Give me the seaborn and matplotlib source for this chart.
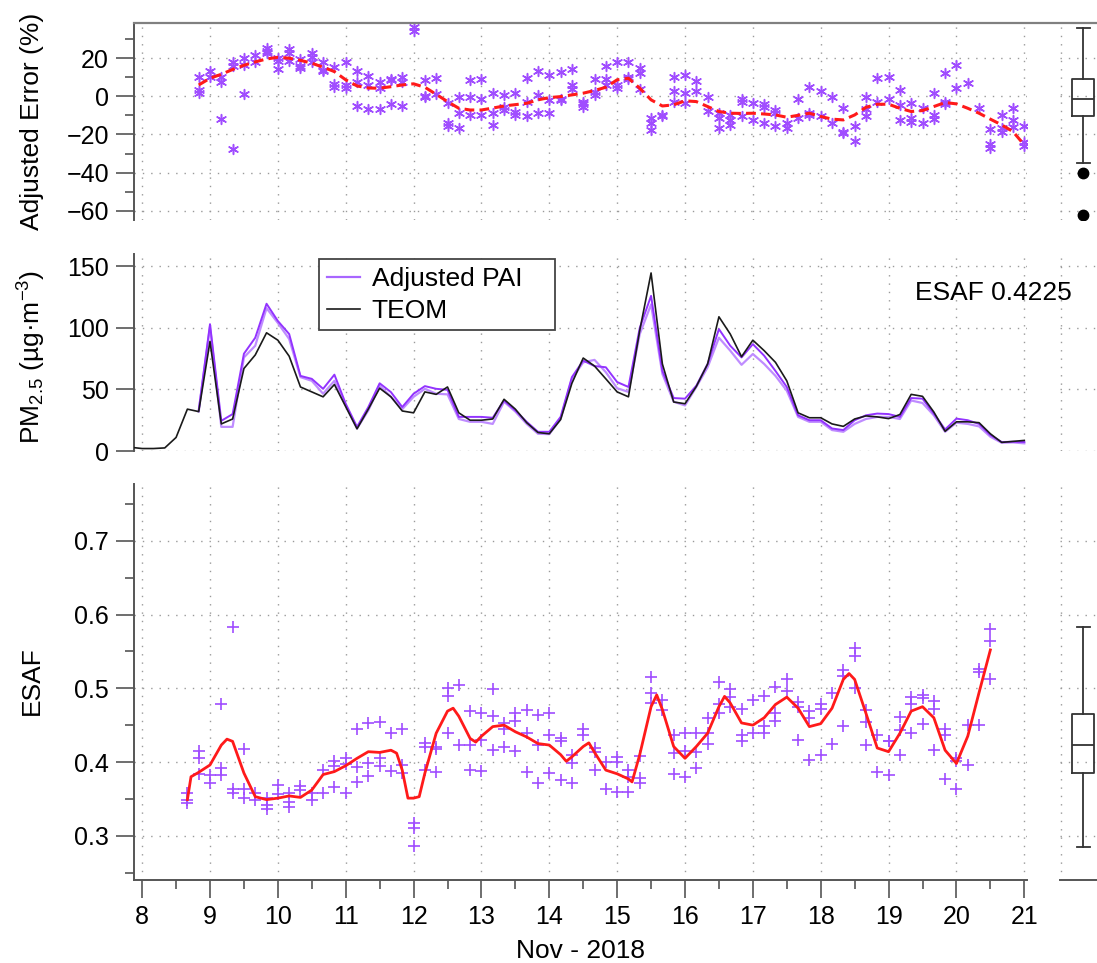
import numpy as np
import matplotlib
matplotlib.use("Agg")
import matplotlib.pyplot as plt
from matplotlib.lines import Line2D
from matplotlib.patches import Rectangle
from matplotlib.ticker import MultipleLocator, FormatStrFormatter
import seaborn as sns

plt.rcParams['font.family'] = ['Liberation Sans', 'DejaVu Sans']
plt.rcParams['mathtext.fontset'] = 'custom'
plt.rcParams['mathtext.rm'] = 'Liberation Sans'
plt.rcParams['mathtext.it'] = 'Liberation Sans:italic'

# ---------------------------------------------------------------- data
# 4-hourly sampling in days of November 2018
teom_start, pai_start, esaf_start = 7 + 5 / 6, 8 + 5 / 6, 8 + 4 / 6

teom_pm = [3, 2, 2, 2.5, 11, 34, 32, 89, 22, 26, 67, 78, 96, 90, 77, 52, 48, 44, 54,
           36, 18, 34, 51, 44, 32.5, 31, 48, 46, 52, 31, 25, 25, 26, 42, 34, 23, 15,
           14, 25.5, 55, 75.5, 69, 58.6, 48, 44, 98, 144.6, 70.7, 39.8, 38.4, 52.4,
           70.7, 109, 95, 76.6, 90, 81.5, 72, 57, 31, 27, 27, 22, 20, 26, 28.5, 27.7,
           26.3, 29.6, 46, 44.4, 31.7, 16, 23.7, 23.7, 23, 14, 7, 7.8, 8.6]

pai_a = [33, 103, 24.5, 30, 79, 92, 119.6, 105.6, 95, 61, 58.6, 50.5, 62, 38.4, 19.6,
         35.7, 55, 47.8, 35.7, 46.5, 52.7, 50.5, 49.7, 27.7, 27.7, 27.7, 27, 41, 33,
         23.7, 15.6, 15.6, 27.7, 60, 73.4, 69, 68, 56, 52, 100, 126, 65, 43, 42.5, 53,
         70.7, 99, 85.5, 76, 86.8, 77.4, 65, 52, 29, 25, 25, 18.3, 17, 25, 29, 30.4,
         30, 27.7, 43, 42.5, 30.4, 17.5, 26.3, 25, 22, 13, 7.3, 7.5, 7.3]

pai_b = [32, 101, 19.6, 19.6, 76, 85.5, 116, 104, 91, 60, 57, 46.5, 57, 37, 18.3, 33,
         53, 44, 34, 44, 50.5, 46.5, 46, 26, 23.7, 23.7, 22, 40, 32, 22, 14, 13.7, 26,
         58.6, 72, 74, 64, 51, 48, 95, 119, 62.6, 40, 37, 52, 68, 92, 81.5, 70, 78.8,
         70.7, 61, 49, 27.7, 23.7, 23.7, 17, 15.6, 22, 26, 27.7, 27.7, 26, 41, 39, 29,
         15.6, 23, 22, 20, 11.6, 6.7, 7, 6.2]

err_points = [
    [10, 3.3, 1.6], [13.3, 10], [10, 7.7, -11.9], [17.8, 16, -27.4], [19.9, 16.4, 1.2],
    [21.6, 17.8], [25.5, 23.9, 22.5], [20.2, 18.2, 14.3], [24.8, 22.5, 18.2],
    [19.4, 16, 15], [22.5, 20.4, 17.8], [17.8, 13.8, 13.3], [15.5, 6.5, 4.7],
    [17.8, 5.9, 4.5], [13.3, 7.7, -5.1], [10.6, 5.9, -6.6], [7.7, 4.2, -6.6],
    [9.1, 8.5, -4.0], [10.3, 7.7, -5.1], [36.5, 33.9], [8.6, 0.3, -0.5], [9.4, 1.2],
    [-3.7, -14.1, -15.5], [-0.2, -8.9, -16.4], [8.6, -0.2, -9.8], [9.1, -1.6, -9.8],
    [1.6, -8.9, -15.2], [0.7, -5.8, -7.2], [1.9, -8.4, -9.8], [9.4, -2.8, -10.3],
    [13.3, 0.7, -8.9], [11, -2, -9], [12.9, -1.4, -1.9], [14.1, 5.9, 3.7],
    [-2.8, -4.2, -5.4], [8.9, 2.4, 0.7], [16, 9.1, 5.9], [17.8, 5.9, 4.2],
    [17.8, 10.3, 8.9], [14.7, 12.4, 3.7], [-11.5, -13.8, -17.6], [-9.8, -10.6],
    [10.3, 3, -2.8], [11.2, 1.9, -3.3], [8, 3], [-0.5, -7.7], [-8.9, -11.5, -16.8],
    [-9.8, -12.4, -15], [-1.6, -2.8, -10.3], [-3.7, -12.4], [-4.0, -5.4, -13.8],
    [-7.2, -8.9, -15.5], [-14.1, -16.8], [-1.6, -11.5], [4.7, -8.9, -9.8], [3, -10.6],
    [-0.5, -14.1], [-5.9, -18.5, -19.4], [-15.5, -23.2], [-0.2, -6.8, -10.6],
    [9.4, -2.8], [10.3, -1.4], [3.3, -4.5, -12.4], [-3.7, -11.5, -13.3], [-6.3, -13.8],
    [1.6, -9.8, -12], [12.4, -2.8, -4.0], [16.4, 4.2], [6.8], [-5.9],
    [-17.3, -25.1, -27.2], [-9.8, -16.8, -18.5], [-6.3, -12.4, -15.9],
    [-15.5, -23.7, -26]]

err_smooth = [5.9, 9.4, 11.5, 14, 16.2, 18, 19.5, 20.4, 19.9, 18.8, 17.3, 15.2, 12.9,
              8.6, 5.4, 4.3, 4.2, 5.0, 5.9, 6.5, 4.7, 1.0, -2.8, -6.3, -7.2, -7.2, -6.2,
              -5.1, -4.4, -3.7, -1.9, -0.7, -0.2, 0.7, 1.6, 3.0, 4.7, 8.6, 9.4, 4.2, -1.9,
              -5.1, -4.5, -2.4, -2.8, -5.4, -8.0, -8.9, -9.0, -8.9, -9.3, -9.8, -11.0,
              -10.0, -8.9, -10.6, -12.0, -12.4, -9.8, -5.8, -4.2, -4.2, -6.3, -8.0, -7.5,
              -5.4, -3.3, -4.0, -6.3, -8.9, -12.0, -15.0, -18.5, -25.5]

esaf_points = [
    [0.358, 0.349, 0.344], [0.415, 0.406, 0.384], [0.383, 0.372], [0.479, 0.392, 0.383],
    [0.583, 0.363, 0.358], [0.417, 0.363, 0.351], [0.358, 0.348], [0.351, 0.342, 0.336],
    [0.369, 0.357], [0.358, 0.346, 0.339], [0.368, 0.362], [0.358, 0.349],
    [0.389, 0.358], [0.402, 0.394, 0.366], [0.405, 0.397, 0.358], [0.445, 0.393, 0.373],
    [0.453, 0.399, 0.381], [0.454, 0.405, 0.394], [0.439, 0.388], [0.445, 0.396, 0.385],
    [0.317, 0.310, 0.286], [0.426, 0.421, 0.389], [0.421, 0.417, 0.386],
    [0.500, 0.489, 0.439], [0.505, 0.423], [0.469, 0.423, 0.389], [0.467, 0.430, 0.388],
    [0.499, 0.463, 0.416], [0.453, 0.445, 0.421], [0.467, 0.455, 0.415],
    [0.471, 0.439, 0.386], [0.464, 0.423, 0.372], [0.466, 0.436, 0.385],
    [0.432, 0.428, 0.376], [0.410, 0.398, 0.371], [0.445, 0.437], [0.419, 0.414, 0.389],
    [0.400, 0.364], [0.407, 0.400, 0.359], [0.389, 0.380, 0.359], [0.408, 0.378, 0.371],
    [0.515, 0.493, 0.480], [0.484, 0.471], [0.436, 0.412, 0.384], [0.439, 0.415, 0.379],
    [0.439, 0.413, 0.392], [0.460, 0.440, 0.425], [0.508, 0.478, 0.466],
    [0.499, 0.488, 0.475], [0.472, 0.436, 0.429], [0.484, 0.439], [0.489, 0.449, 0.439],
    [0.502, 0.467, 0.455], [0.512, 0.496], [0.482, 0.474, 0.430], [0.469, 0.460, 0.403],
    [0.479, 0.472, 0.410], [0.494, 0.425], [0.525, 0.517, 0.449], [0.555, 0.544, 0.500],
    [0.471, 0.454, 0.423], [0.436, 0.386], [0.429, 0.428, 0.383], [0.461, 0.444, 0.409],
    [0.488, 0.478, 0.439], [0.491, 0.487, 0.452], [0.483, 0.472, 0.416],
    [0.445, 0.437, 0.377], [0.405, 0.402, 0.363], [0.450, 0.396], [0.526, 0.522, 0.450],
    [0.581, 0.564, 0.512]]

esaf_smooth_day = [8.667, 8.72, 8.833, 9.0, 9.167, 9.25, 9.333, 9.5, 9.667, 9.833, 10.0,
                   10.167, 10.333, 10.5, 10.667, 10.833, 11.0, 11.167, 11.333, 11.5,
                   11.667, 11.75, 11.833, 11.917, 12.0, 12.083, 12.167, 12.333, 12.5,
                   12.583, 12.667, 12.833, 12.917, 13.0, 13.167, 13.333, 13.5, 13.667,
                   13.833, 14.0, 14.167, 14.25, 14.333, 14.5, 14.583, 14.667, 14.833,
                   15.0, 15.167, 15.22, 15.333, 15.5, 15.583, 15.667, 15.833, 16.0,
                   16.167, 16.333, 16.5, 16.583, 16.667, 16.833, 17.0, 17.167, 17.333,
                   17.5, 17.667, 17.833, 18.0, 18.167, 18.333, 18.417, 18.5, 18.667,
                   18.833, 19.0, 19.167, 19.333, 19.5, 19.667, 19.833, 20.0, 20.167,
                   20.333, 20.5]
esaf_smooth = [0.349, 0.380, 0.386, 0.396, 0.423, 0.431, 0.428, 0.385, 0.353, 0.349,
               0.351, 0.354, 0.352, 0.362, 0.383, 0.387, 0.395, 0.405, 0.414, 0.413,
               0.416, 0.412, 0.389, 0.351, 0.351, 0.353, 0.385, 0.439, 0.469, 0.473,
               0.462, 0.432, 0.427, 0.435, 0.448, 0.450, 0.441, 0.434, 0.425, 0.423,
               0.410, 0.401, 0.407, 0.421, 0.426, 0.413, 0.389, 0.384, 0.377, 0.373,
               0.410, 0.475, 0.491, 0.471, 0.421, 0.405, 0.421, 0.439, 0.475, 0.489,
               0.480, 0.453, 0.450, 0.460, 0.478, 0.488, 0.473, 0.448, 0.452, 0.473,
               0.512, 0.520, 0.512, 0.466, 0.419, 0.414, 0.439, 0.469, 0.475, 0.460,
               0.416, 0.398, 0.435, 0.494, 0.552]

# box summaries: lower whisker, Q1, median, Q3, upper whisker, outliers
err_box = [-34.8, -10.3, -1.6, 8.9, 35.8]
err_outliers = [-40.3, -62.1]
esaf_box = [0.285, 0.3855, 0.423, 0.465, 0.583]
esaf_outliers = []

esaf_mean_label = "ESAF 0.4225"
day_ticks = list(range(8, 22))

# ---------------------------------------------------------------- helpers
step = 1 / 6
teom_day = teom_start + step * np.arange(len(teom_pm))
pai_day = pai_start + step * np.arange(len(pai_a))
err_day = np.concatenate([[pai_start + i * step] * len(v) for i, v in enumerate(err_points)])
err_val = np.concatenate(err_points)
esaf_day = np.concatenate([[esaf_start + i * step] * len(v) for i, v in enumerate(esaf_points)])
esaf_val = np.concatenate(esaf_points)

W, H = 1097, 963
fig = plt.figure(figsize=(W / 100, H / 100), dpi=100)


def rect(l, t, r, b):
    return [l / W, 1 - b / H, (r - l) / W, (b - t) / H]


ax_err = fig.add_axes(rect(134, 22.7, 1027, 220))
ax_pm = fig.add_axes(rect(134, 254, 1027, 451))
ax_esaf = fig.add_axes(rect(134, 484, 1027, 880))
bx_err = fig.add_axes(rect(1060, 22.7, 1097, 220))
bx_pm = fig.add_axes(rect(1060, 254, 1097, 451))
bx_esaf = fig.add_axes(rect(1060, 484, 1097, 880))

PURPLE = '#a04dff'
PURPLE_DARK = '#9333ff'
PURPLE_LIGHT = '#bf8cff'
SPINE = '#555555'
GRID = dict(color='#9a9a9a', linewidth=1.0, linestyle=(0, (1, 5)))
TICK_FS = 18
LABEL_FS = 19

ylims = {'err': (-64.8, 38.5), 'pm': (0, 160), 'esaf': (0.24, 0.777)}

# ---------------------------------------------------------------- top: adjusted error
sns.scatterplot(x=err_day, y=err_val, ax=ax_err, marker=(6, 2, 0), s=50,
                color=PURPLE, linewidth=1.1, zorder=3)
sns.lineplot(x=pai_day, y=err_smooth, ax=ax_err, color='#ff1a1a', lw=2.2,
             linestyle=(0, (3.2, 1.7)), zorder=4)
ax_err.set_ylim(*ylims['err'])
ax_err.yaxis.set_major_locator(MultipleLocator(20))
ax_err.yaxis.set_minor_locator(MultipleLocator(10))

# ---------------------------------------------------------------- middle: PM2.5
sns.lineplot(x=pai_day, y=pai_b, ax=ax_pm, color=PURPLE_LIGHT, lw=1.6, zorder=3)
sns.lineplot(x=pai_day, y=pai_a, ax=ax_pm, color=PURPLE_DARK, lw=1.4, zorder=3)
sns.lineplot(x=teom_day, y=teom_pm, ax=ax_pm, color='#1a1a1a', lw=1.2, zorder=4)
ax_pm.set_ylim(*ylims['pm'])
ax_pm.set_yticks([0, 50, 100, 150])
handles = [Line2D([], [], color='#a866ff', lw=1.6), Line2D([], [], color='#1a1a1a', lw=1.2)]
leg = ax_pm.legend(handles, ['Adjusted PAI', 'TEOM'], loc='upper left',
                   bbox_to_anchor=(319 / W, 1 - 259 / H), bbox_transform=fig.transFigure,
                   borderaxespad=0, fontsize=LABEL_FS, frameon=False,
                   borderpad=0.3, labelspacing=0.3, handlelength=1.25, handletextpad=0.45)
leg.set_zorder(6)
# legend frame drawn as a plain box, wider than its text
ax_pm.add_patch(Rectangle((319 / W, 1 - 330 / H), (555 - 319) / W, (330 - 259) / H,
                          transform=fig.transFigure, facecolor='white', edgecolor='#444444',
                          linewidth=1.3, zorder=5, clip_on=False))
fig.text(915 / W, 1 - 293 / H, esaf_mean_label, fontsize=LABEL_FS, va='center', ha='left')

# ---------------------------------------------------------------- bottom: ESAF
sns.scatterplot(x=esaf_day, y=esaf_val, ax=ax_esaf, marker='+', s=64,
                color=PURPLE, linewidth=1.2, zorder=3)
sns.lineplot(x=esaf_smooth_day, y=esaf_smooth, ax=ax_esaf, color='#ff1a1a', lw=2.0,
             zorder=4)
ax_esaf.set_ylim(*ylims['esaf'])
ax_esaf.yaxis.set_major_locator(MultipleLocator(0.1))
ax_esaf.yaxis.set_minor_locator(MultipleLocator(0.05))
ax_esaf.yaxis.set_major_formatter(FormatStrFormatter('%.1f'))

# ---------------------------------------------------------------- shared styling
for ax in (ax_err, ax_pm, ax_esaf):
    ax.set_xlim(7.88, 21.04)
    ax.set_xticks(day_ticks)
    ax.xaxis.set_minor_locator(MultipleLocator(0.5))
    ax.grid(True, which='major', **GRID)
    ax.set_axisbelow(True)
    ax.set_xlabel('')
    ax.set_ylabel('')
    for side in ('top', 'right', 'bottom'):
        ax.spines[side].set_visible(False)
    ax.spines['left'].set_color(SPINE)
    ax.spines['left'].set_linewidth(1.4)
    ax.tick_params(axis='y', which='major', length=13, width=1.2, color=SPINE,
                   labelsize=TICK_FS, pad=5)
    ax.tick_params(axis='y', which='minor', length=6.5, width=1.2, color=SPINE)
    ax.set_facecolor('none')

for ax in (ax_err, ax_pm):
    ax.tick_params(axis='x', which='both', length=0, labelbottom=False)

ax_esaf.spines['bottom'].set_visible(True)
ax_esaf.spines['bottom'].set_color(SPINE)
ax_esaf.spines['bottom'].set_linewidth(1.4)
ax_esaf.tick_params(axis='x', which='major', length=13, width=1.2, color=SPINE,
                    labelsize=TICK_FS, pad=5)
ax_esaf.tick_params(axis='x', which='minor', length=6.5, width=1.2, color=SPINE)
ax_esaf.set_xlabel('Nov - 2018', fontsize=LABEL_FS, labelpad=7)

# ---------------------------------------------------------------- box panels
def draw_box(ax, summary, outliers):
    lo, q1, med, q3, hi = summary
    stats = [dict(whislo=lo, q1=q1, med=med, q3=q3, whishi=hi, fliers=outliers)]
    line = dict(color='#333333', linewidth=1.3)
    ax.bxp(stats, positions=[23], widths=22, capwidths=13, showfliers=True,
           boxprops=line, whiskerprops=line, capprops=line, medianprops=line,
           flierprops=dict(marker='o', markerfacecolor='black', markeredgecolor='black',
                           markersize=7.5))


draw_box(bx_err, err_box, err_outliers)
draw_box(bx_esaf, esaf_box, esaf_outliers)

for bx, main, key in ((bx_err, ax_err, 'err'), (bx_pm, ax_pm, 'pm'), (bx_esaf, ax_esaf, 'esaf')):
    bx.set_xlim(0, 37)
    bx.set_yticks(main.get_yticks())
    bx.set_ylim(*ylims[key])
    bx.set_xticks([0.6])
    bx.grid(True, which='major', **GRID)
    bx.set_axisbelow(True)
    bx.tick_params(which='both', length=0, labelbottom=False, labelleft=False)
    for side in bx.spines:
        bx.spines[side].set_visible(False)
    bx.set_facecolor('none')

bx_esaf.spines['bottom'].set_visible(True)
bx_esaf.spines['bottom'].set_color(SPINE)
bx_esaf.spines['bottom'].set_linewidth(1.4)

# frame line across the top of the upper panel
fig.add_artist(Line2D([134 / W, 1.0], [1 - 22.7 / H] * 2, transform=fig.transFigure,
                      color='#808080', lw=1.6))

# ---------------------------------------------------------------- axis titles
fig.text(32 / W, 1 - 121 / H, 'Adjusted Error (%)', rotation=90, fontsize=LABEL_FS,
         ha='center', va='center')
fig.text(32 / W, 1 - 357 / H, r'PM$_{2.5}$ (µg·m$^{-3}$)', rotation=90, fontsize=LABEL_FS,
         ha='center', va='center')
fig.text(32 / W, 1 - 681 / H, 'ESAF', rotation=90, fontsize=LABEL_FS,
         ha='center', va='center')

fig.savefig('out.png', dpi=100)
